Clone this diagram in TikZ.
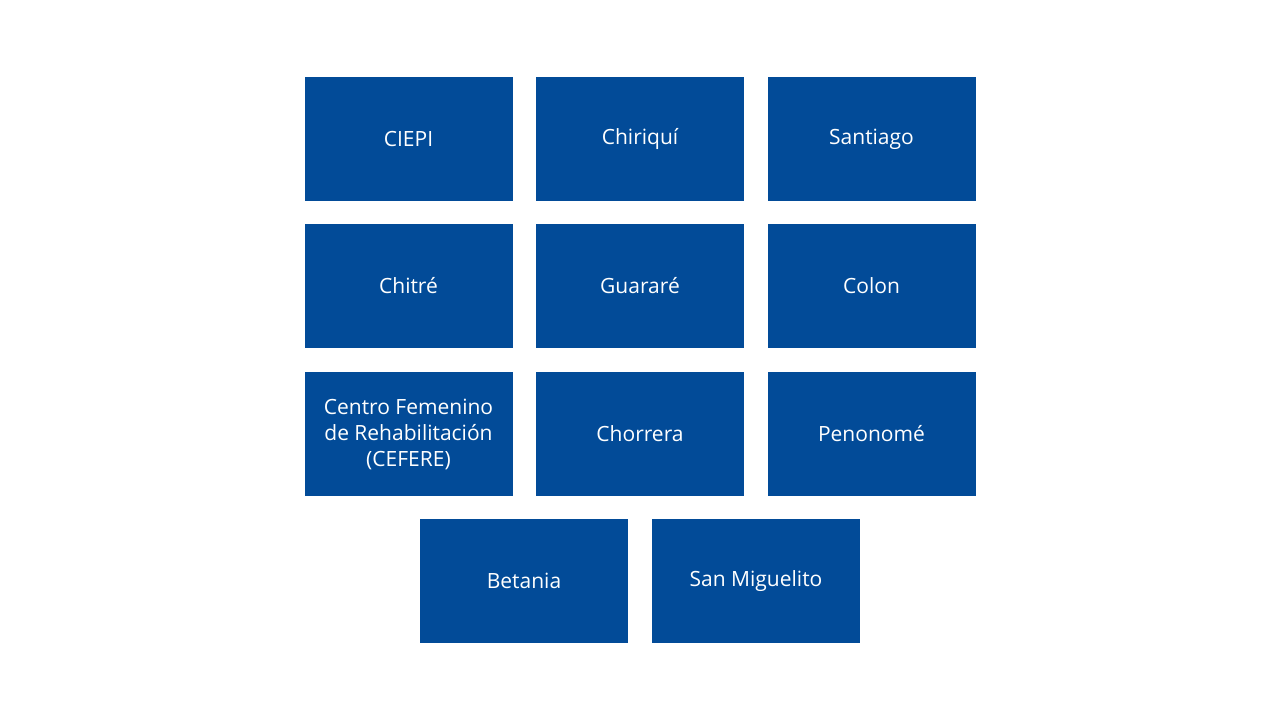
\documentclass[tikz,border=0pt]{standalone}
\usepackage{fontspec}
\setmainfont{Open Sans}
\usetikzlibrary{positioning}
\definecolor{boxblue}{HTML}{024B98}
\tikzset{
  site/.style={fill=boxblue, text=white, minimum width=208pt, minimum height=124pt,
    inner sep=2pt, align=center, font=\fontsize{21}{26}\selectfont}
}
\begin{document}
\begin{tikzpicture}[x=1pt, y=-1pt]

\useasboundingbox (0,0) rectangle (1280,720);

\node (ciepi) at (408.5, 139) [site] {CIEPI};
\node (chiriqui) at (640, 139) [site] {Chiriquí};
\node (santiago) at (871.5, 139) [site] {Santiago};

\node (chitre) at (408.5, 286) [site] {Chitré};
\node (guarare) at (640, 286) [site] {Guararé};
\node (colon) at (871.5, 286) [site] {Colon};

\node (cefere) at (408.5, 434) [site] {Centro Femenino\\de Rehabilitación\\(CEFERE)};
\node (chorrera) at (640, 434) [site] {Chorrera};
\node (penonome) at (871.5, 434) [site] {Penonomé};

\node (betania) at (524, 581) [site] {Betania};
\node (sanmiguelito) at (756, 581) [site] {San Miguelito};

\end{tikzpicture}
\end{document}
